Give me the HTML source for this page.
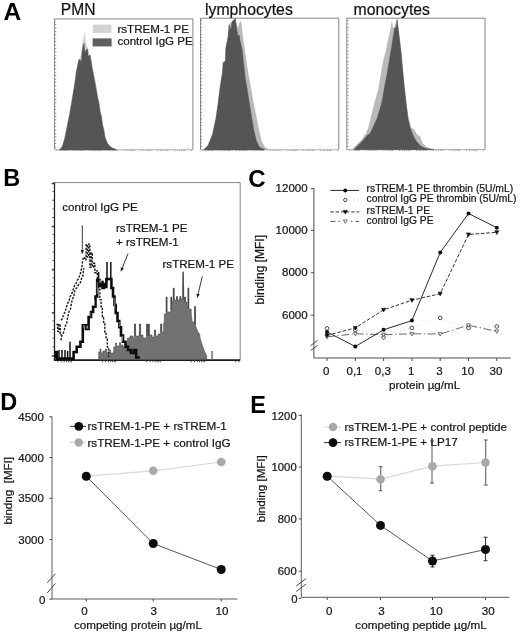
<!DOCTYPE html>
<html><head><meta charset="utf-8"><title>figure</title>
<style>
html,body{margin:0;padding:0;background:#fff;}
svg{display:block;font-family:"Liberation Sans",sans-serif;}
svg text{stroke:#222;stroke-width:0.22px;}
</style></head><body>
<svg width="520" height="634" viewBox="0 0 520 634">
<defs><filter id="soft" x="0" y="0" width="520" height="634" filterUnits="userSpaceOnUse"><feGaussianBlur stdDeviation="0.42"/></filter></defs>
<rect x="0" y="0" width="520" height="634" fill="#ffffff"/>
<g filter="url(#soft)">
<text x="3.4" y="19.6" font-size="24.5" font-weight="bold" fill="#000" style="stroke:none">A</text>
<text x="3.2" y="185.8" font-size="23.6" font-weight="bold" fill="#000" style="stroke:none">B</text>
<text x="248.3" y="186.8" font-size="24" font-weight="bold" fill="#000" style="stroke:none">C</text>
<text x="0.2" y="410.4" font-size="23.5" font-weight="bold" fill="#000" style="stroke:none">D</text>
<text x="250.3" y="412.8" font-size="23.5" font-weight="bold" fill="#000" style="stroke:none">E</text>
<path d="M54.6 149.8V18.9H192.9V149.8" fill="none" stroke="#666" stroke-width="0.8"/>
<path d="M54.6 149.8H192.9" fill="none" stroke="#969696" stroke-width="0.8"/>
<line x1="55.6" y1="20.9" x2="55.6" y2="149.8" stroke="#777" stroke-width="1.4" stroke-dasharray="0.7 2.7"/>
<line x1="56.6" y1="150.5" x2="192.9" y2="150.5" stroke="#8a8a8a" stroke-width="1.2" stroke-dasharray="0.7 2.2 0.7 1.6 0.7 1.2 0.7 0.9 0.7 0.7 0.7 6"/>
<polygon points="59.00,150.00 62.00,146.25 64.50,137.50 67.00,125.00 69.50,112.50 72.00,97.50 74.50,82.50 75.75,72.50 77.00,66.25 78.25,60.00 79.75,58.00 81.00,55.00 82.00,47.50 83.00,40.00 84.50,31.25 85.75,40.00 86.75,46.25 88.00,47.50 89.00,55.00 90.75,54.50 92.00,62.50 93.25,70.00 95.25,80.00 97.00,90.00 98.25,97.50 99.50,102.50 100.75,111.25 102.00,116.25 103.25,125.00 104.50,130.00 105.75,137.50 108.25,143.75 112.00,147.50 117.00,149.75 117.00,150.00" fill="#d3d3d3"/>
<polygon points="59.50,150.00 62.50,146.25 65.00,137.50 67.50,125.00 70.00,112.50 72.50,97.50 75.00,82.50 76.25,72.50 77.50,66.25 78.75,60.00 80.00,59.50 81.25,62.50 82.00,52.50 83.00,46.25 84.00,43.00 85.00,52.50 86.25,50.00 87.50,48.75 88.25,56.25 90.00,55.00 91.25,62.50 92.50,70.00 94.50,80.00 96.25,90.00 97.50,97.50 98.75,102.50 100.00,111.25 101.25,116.25 102.50,125.00 103.75,130.00 105.00,137.50 107.50,143.75 111.25,147.50 116.25,149.50 116.25,150.00" fill="#555555" stroke="#484848" stroke-width="0.4"/>
<rect x="92.8" y="24.6" width="18.6" height="8.3" fill="#d3d3d3"/>
<rect x="92.6" y="38.4" width="19" height="8" fill="#5e5e5e"/>
<text x="117.4" y="32.7" font-size="11.6" fill="#111">rsTREM-1 PE</text>
<text x="117.4" y="45.4" font-size="11.6" fill="#111">control IgG PE</text>
<text x="60.8" y="14.8" font-size="15.6" fill="#111">PMN</text>
<path d="M200.5 149.8V18.2H338.8V149.8" fill="none" stroke="#666" stroke-width="0.8"/>
<path d="M200.5 149.8H338.8" fill="none" stroke="#969696" stroke-width="0.8"/>
<line x1="201.5" y1="20.2" x2="201.5" y2="149.8" stroke="#777" stroke-width="1.4" stroke-dasharray="0.7 2.7"/>
<line x1="202.5" y1="150.5" x2="338.8" y2="150.5" stroke="#8a8a8a" stroke-width="1.2" stroke-dasharray="0.7 2.2 0.7 1.6 0.7 1.2 0.7 0.9 0.7 0.7 0.7 6"/>
<polygon points="203.39,149.88 207.80,145.24 212.22,134.21 215.53,118.75 217.74,103.30 219.94,85.64 221.93,72.40 222.81,62.02 225.02,60.92 225.46,48.11 227.67,37.08 228.77,24.49 232.09,21.18 235.18,17.87 238.05,28.25 239.15,23.83 240.92,20.52 242.02,28.25 243.57,41.49 245.55,54.74 247.76,70.19 250.63,85.64 253.72,103.30 256.37,116.55 259.02,129.79 261.67,140.83 264.76,147.01 268.73,149.22 268.73,149.88" fill="#b9b9b9"/>
<polygon points="203.83,149.88 208.25,145.24 212.66,134.21 215.97,118.75 218.18,103.30 220.39,85.64 222.59,72.40 223.26,62.46 225.46,61.36 225.91,48.11 228.11,37.08 229.22,24.93 230.76,30.45 232.09,21.62 233.63,20.52 235.18,18.31 236.50,28.25 238.05,37.08 239.15,34.87 240.25,41.49 242.24,50.32 243.57,63.57 245.33,79.02 247.32,90.06 249.30,103.30 251.51,116.55 253.72,129.79 256.37,140.83 259.68,147.45 264.54,149.22 264.54,149.88" fill="#555555" stroke="#484848" stroke-width="0.4"/>
<text x="205" y="14.7" font-size="15.8" fill="#111">lymphocytes</text>
<path d="M346.8 149.6V18.2H485.0V149.6" fill="none" stroke="#666" stroke-width="0.8"/>
<path d="M346.8 149.6H485.0" fill="none" stroke="#969696" stroke-width="0.8"/>
<line x1="347.8" y1="20.2" x2="347.8" y2="149.6" stroke="#777" stroke-width="1.4" stroke-dasharray="0.7 2.7"/>
<line x1="348.8" y1="150.29999999999998" x2="485.0" y2="150.29999999999998" stroke="#8a8a8a" stroke-width="1.2" stroke-dasharray="0.7 2.2 0.7 1.6 0.7 1.2 0.7 0.9 0.7 0.7 0.7 6"/>
<polygon points="351.63,149.75 356.04,145.33 361.57,139.81 365.99,133.18 368.19,127.66 370.40,118.82 372.61,109.99 374.82,101.15 378.13,90.10 380.34,76.85 382.55,63.60 385.87,50.34 388.07,39.30 390.28,30.46 391.83,20.52 393.16,28.25 394.70,26.04 397.13,18.98 398.68,30.46 400.00,41.51 401.55,54.76 403.10,72.43 404.86,90.10 406.63,105.57 408.62,117.72 411.27,128.10 414.58,129.87 416.79,134.28 420.10,136.49 422.31,143.12 426.73,147.10 431.15,148.64 437.78,149.31 437.78,149.75" fill="#b9b9b9"/>
<polygon points="353.84,149.75 358.25,145.33 362.67,140.91 367.09,135.39 370.40,133.18 373.72,125.45 377.03,118.82 380.34,107.78 382.55,98.94 384.76,85.69 386.97,74.64 389.18,61.39 391.39,48.13 393.16,37.09 394.70,28.25 396.25,27.15 397.13,19.42 398.46,30.46 399.78,41.51 401.33,54.76 402.87,72.43 404.64,90.10 406.41,105.57 407.96,118.82 410.16,127.66 413.48,136.49 416.79,142.02 421.21,146.43 426.73,148.64 433.36,149.31 433.36,149.75" fill="#555555" stroke="#484848" stroke-width="0.4"/>
<text x="353.6" y="14.7" font-size="15.8" fill="#111">monocytes</text>
<path d="M54.5 182.6H240.2V360" fill="none" stroke="#777" stroke-width="0.9"/>
<path d="M54.5 182.6V360" fill="none" stroke="#222" stroke-width="1.3"/>
<path d="M53.9 360.1H240.2" fill="none" stroke="#1a1a1a" stroke-width="1.7"/>
<line x1="53.3" y1="182.6" x2="53.3" y2="360" stroke="#333" stroke-width="1.6" stroke-dasharray="0.8 7.82"/>
<line x1="57.5" y1="361.4" x2="240.2" y2="361.4" stroke="#333" stroke-width="1.6" stroke-dasharray="0.8 2.6 0.8 2 0.8 1.5 0.8 1.1 0.8 0.9 0.8 0.7 0.8 30"/>
<line x1="51.6" y1="183.7" x2="54.5" y2="183.7" stroke="#222" stroke-width="1"/>
<line x1="51.6" y1="226.8" x2="54.5" y2="226.8" stroke="#222" stroke-width="1"/>
<line x1="51.6" y1="269.9" x2="54.5" y2="269.9" stroke="#222" stroke-width="1"/>
<line x1="51.6" y1="313.0" x2="54.5" y2="313.0" stroke="#222" stroke-width="1"/>
<line x1="51.6" y1="356.1" x2="54.5" y2="356.1" stroke="#222" stroke-width="1"/>
<polygon points="98.70,359.50 98.70,352.00 100.00,352.00 100.00,349.00 101.00,349.00 101.00,353.00 103.00,353.00 103.00,351.00 105.50,351.00 105.50,349.00 106.80,349.00 106.80,353.00 109.50,353.00 109.50,350.00 110.50,350.00 110.50,353.00 113.70,353.00 113.70,347.00 115.50,347.00 115.50,343.00 116.50,343.00 116.50,346.00 119.50,346.00 119.50,342.50 120.50,342.50 120.50,345.00 123.00,345.00 123.00,347.00 125.00,347.00 125.00,344.00 127.50,344.00 127.50,338.00 130.00,338.00 130.00,336.00 133.00,336.00 133.00,338.00 134.40,338.00 134.40,324.00 135.60,324.00 135.60,336.00 139.40,336.00 139.40,324.00 140.60,324.00 140.60,335.00 143.00,335.00 143.00,338.00 146.50,338.00 146.50,324.00 147.60,324.00 147.60,332.00 148.30,332.00 148.30,324.00 149.40,324.00 149.40,335.00 152.00,335.00 152.00,337.00 154.40,337.00 154.40,330.00 155.60,330.00 155.60,336.00 158.00,336.00 158.00,334.00 160.60,334.00 160.60,324.00 161.80,324.00 161.80,332.00 163.70,332.00 163.70,323.00 164.30,323.00 164.30,314.00 166.10,314.00 166.10,297.00 167.10,297.00 167.10,312.00 170.80,312.00 170.80,297.00 171.80,297.00 171.80,301.00 173.20,301.00 173.20,288.00 174.20,288.00 174.20,300.00 176.50,300.00 176.50,296.50 177.50,296.50 177.50,300.00 179.80,300.00 179.80,296.50 180.80,296.50 180.80,299.00 182.60,299.00 182.60,290.00 183.10,271.50 183.70,290.00 183.70,299.00 184.50,299.00 184.50,297.00 185.50,297.00 185.50,302.00 187.00,302.00 187.00,307.00 187.90,307.00 187.90,288.00 188.90,288.00 188.90,309.00 191.20,309.00 191.20,314.00 192.20,322.00 194.50,322.00 194.50,306.50 195.50,306.50 195.50,326.00 197.80,331.60 199.70,334.40 200.00,338.00 202.50,346.00 205.00,352.50 206.70,356.00 206.70,359.50" fill="#727272" stroke="#4a4a4a" stroke-width="0.6" stroke-linejoin="round"/>
<rect x="211.4" y="351" width="1.3" height="9" fill="#5a5a5a"/>
<line x1="166.6" y1="297" x2="166.6" y2="312" stroke="#3c3c3c" stroke-width="0.9"/>
<line x1="171.3" y1="297" x2="171.3" y2="310" stroke="#3c3c3c" stroke-width="0.9"/>
<line x1="173.7" y1="288" x2="173.7" y2="300" stroke="#3c3c3c" stroke-width="0.9"/>
<line x1="177" y1="296.5" x2="177" y2="300" stroke="#3c3c3c" stroke-width="0.9"/>
<line x1="180.3" y1="296.5" x2="180.3" y2="300" stroke="#3c3c3c" stroke-width="0.9"/>
<line x1="183.15" y1="272" x2="183.15" y2="299" stroke="#3c3c3c" stroke-width="0.9"/>
<line x1="185" y1="297" x2="185" y2="302" stroke="#3c3c3c" stroke-width="0.9"/>
<line x1="188.4" y1="288" x2="188.4" y2="308" stroke="#3c3c3c" stroke-width="0.9"/>
<line x1="195" y1="306.5" x2="195" y2="324" stroke="#3c3c3c" stroke-width="0.9"/>
<line x1="135" y1="324" x2="135" y2="336" stroke="#3c3c3c" stroke-width="0.9"/>
<line x1="140" y1="324" x2="140" y2="336" stroke="#3c3c3c" stroke-width="0.9"/>
<line x1="147.05" y1="324" x2="147.05" y2="336" stroke="#3c3c3c" stroke-width="0.9"/>
<line x1="148.85" y1="324" x2="148.85" y2="336" stroke="#3c3c3c" stroke-width="0.9"/>
<line x1="161.2" y1="324" x2="161.2" y2="332" stroke="#3c3c3c" stroke-width="0.9"/>
<line x1="155" y1="330" x2="155" y2="336" stroke="#3c3c3c" stroke-width="0.9"/>
<polyline points="56.40,324.47 57.65,324.47 57.65,331.41 58.90,331.41 58.90,324.25 60.15,324.25 60.15,334.94 61.40,334.94" fill="none" stroke="#1a1a1a" stroke-width="1.4" stroke-dasharray="2.3 1.3" stroke-linejoin="round"/>
<polyline points="83.60,257.92 84.85,257.92 84.85,259.88 86.10,259.88 86.10,244.55 87.35,244.55 87.35,257.10 88.60,257.10 88.60,243.97 89.85,243.97 89.85,267.27 91.10,267.27 91.10,252.83 92.35,252.83 92.35,267.10 93.60,267.10 93.60,263.30 94.85,263.30 94.85,272.72 96.10,272.72 96.10,270.87 97.35,270.87 97.35,281.87 98.60,281.87 98.60,286.89 99.85,286.89 99.85,299.60 101.10,299.60 101.10,306.78 102.35,306.78 102.35,317.56 103.60,317.56 103.60,323.38 104.85,323.38 104.85,333.52 106.10,333.52 106.10,339.02 107.35,339.02 107.35,347.11 108.60,347.11 108.60,357.00" fill="none" stroke="#1a1a1a" stroke-width="1.4" stroke-dasharray="2.3 1.3" stroke-linejoin="round"/>
<polyline points="60.90,320.30 62.20,319.00 63.60,314.90 64.80,312.50 66.30,307.60 67.00,305.50 68.10,302.20 69.20,300.50 70.00,296.70 71.40,294.50 72.70,291.30 73.40,289.00 74.50,285.80 76.00,283.60 77.20,280.40 78.60,278.40 79.90,274.90 80.80,272.00 81.80,267.70 82.30,264.00 82.70,260.40 83.60,257.00" fill="none" stroke="#1a1a1a" stroke-width="1.4" stroke-dasharray="2.3 1.3" stroke-linejoin="round"/>
<polyline points="60.90,340.30 62.00,335.00 63.20,333.60 65.40,325.70 66.60,323.80 67.60,317.50 69.10,311.20 70.40,309.40 71.50,303.00 72.70,298.50 73.80,296.60 74.60,291.50 75.40,289.40 77.00,287.60 79.00,284.00 80.40,282.60 81.60,278.40 82.70,276.70 83.30,272.00 83.80,268.00" fill="none" stroke="#1a1a1a" stroke-width="1.4" stroke-dasharray="2.3 1.3" stroke-linejoin="round"/>
<polyline points="55.60,358.60 55.60,352.00 57.00,352.00 57.00,358.60 73.60,358.60 73.60,352.00 76.70,352.00 76.70,346.80 80.40,346.80 80.40,341.70 82.80,341.70 82.80,325.30 86.00,325.30 86.00,329.00 88.60,329.00 88.60,317.00 91.00,317.00 91.00,312.00 93.10,312.00 93.10,306.80 95.50,306.80 95.50,296.50 97.20,296.50 97.20,280.00 99.60,280.00 99.60,286.00 101.00,286.00 101.00,282.00 102.50,282.00 102.50,288.00 104.00,288.00 104.00,284.00 105.40,284.00 105.40,287.00 106.40,287.00 106.40,279.00 111.40,279.00 111.40,288.00 113.00,288.00 113.00,296.50 114.50,296.50 114.50,305.00 115.70,305.00 115.70,313.00 117.50,313.00 117.50,321.00 119.30,321.00 119.30,327.30 121.00,327.30 121.00,335.50 123.00,335.50 123.00,341.70 125.50,341.70 125.50,346.80 128.00,346.80 128.00,350.00 131.00,350.00 131.00,353.00 134.00,353.00 134.00,350.00 136.20,350.00 136.20,357.50 140.00,357.50" fill="none" stroke="#111" stroke-width="2.6" stroke-linejoin="miter"/>
<line x1="59" y1="350" x2="59" y2="358.6" stroke="#111" stroke-width="1.5"/>
<line x1="62" y1="350" x2="62" y2="358.6" stroke="#111" stroke-width="1.5"/>
<line x1="65" y1="350" x2="65" y2="358.6" stroke="#111" stroke-width="1.5"/>
<line x1="67.6" y1="351" x2="67.6" y2="358.6" stroke="#111" stroke-width="1.5"/>
<line x1="70" y1="341.7" x2="70" y2="358.6" stroke="#111" stroke-width="1.5"/>
<line x1="98.6" y1="272" x2="98.6" y2="280" stroke="#111" stroke-width="1.5"/>
<line x1="107.0" y1="262" x2="107.0" y2="281" stroke="#111" stroke-width="1.5"/>
<line x1="110.8" y1="262" x2="110.8" y2="281" stroke="#111" stroke-width="1.5"/>
<rect x="83.4" y="324.8" width="1.0" height="3.5" fill="#888"/>
<rect x="86.4" y="325.6" width="1.8" height="3" fill="#888"/>
<rect x="89.6" y="312.5" width="0.9" height="4" fill="#888"/>
<rect x="94" y="300" width="0.9" height="6" fill="#888"/>
<rect x="96.8" y="282" width="0.9" height="12" fill="#888"/>
<rect x="99.4" y="279.6" width="2.2" height="3.2" fill="#888"/>
<rect x="114.3" y="298" width="0.9" height="12" fill="#888"/>
<rect x="118.8" y="322" width="0.9" height="5" fill="#888"/>
<rect x="122" y="336" width="0.9" height="5" fill="#888"/>
<text x="62.3" y="210.6" font-size="11.6" fill="#111">control IgG PE</text>
<text x="116" y="231.8" font-size="11.6" fill="#111">rsTREM-1 PE</text>
<text x="116" y="245.5" font-size="11.6" fill="#111">+ rsTREM-1</text>
<text x="162.5" y="268.4" font-size="11.6" fill="#111">rsTREM-1 PE</text>
<line x1="82.30" y1="225.50" x2="82.30" y2="250.00" stroke="#222" stroke-width="0.9"/>
<polygon points="82.30,254.20 80.60,250.00 84.00,250.00" fill="#222"/>
<line x1="128.00" y1="253.60" x2="122.35" y2="267.89" stroke="#222" stroke-width="0.9"/>
<polygon points="120.80,271.80 120.76,267.27 123.93,268.52" fill="#222"/>
<line x1="202.30" y1="276.40" x2="198.17" y2="293.81" stroke="#222" stroke-width="0.9"/>
<polygon points="197.20,297.90 196.52,293.42 199.82,294.21" fill="#222"/>
<line x1="313.9" y1="188" x2="313.9" y2="358" stroke="#4a4a4a" stroke-width="1"/>
<line x1="313.9" y1="358" x2="510.6" y2="358" stroke="#4a4a4a" stroke-width="1"/>
<line x1="310.9" y1="188.7" x2="313.9" y2="188.7" stroke="#4a4a4a" stroke-width="1"/>
<text x="307.6" y="191.9" font-size="11.5" text-anchor="end" fill="#111">12000</text>
<line x1="310.9" y1="230.4" x2="313.9" y2="230.4" stroke="#4a4a4a" stroke-width="1"/>
<text x="307.6" y="233.6" font-size="11.5" text-anchor="end" fill="#111">10000</text>
<line x1="310.9" y1="272.7" x2="313.9" y2="272.7" stroke="#4a4a4a" stroke-width="1"/>
<text x="307.6" y="276.1" font-size="11.5" text-anchor="end" fill="#111">8000</text>
<line x1="310.9" y1="315.2" x2="313.9" y2="315.2" stroke="#4a4a4a" stroke-width="1"/>
<text x="307.6" y="318.90000000000003" font-size="11.5" text-anchor="end" fill="#111">6000</text>
<line x1="310.6" y1="345.6" x2="317.6" y2="340.4" stroke="#4a4a4a" stroke-width="1"/>
<line x1="310.6" y1="350.6" x2="317.6" y2="345.4" stroke="#4a4a4a" stroke-width="1"/>
<line x1="327.0" y1="358" x2="327.0" y2="361" stroke="#4a4a4a" stroke-width="1"/>
<text x="326.2" y="374.6" font-size="11.5" text-anchor="middle" fill="#111">0</text>
<line x1="355.3" y1="358" x2="355.3" y2="361" stroke="#4a4a4a" stroke-width="1"/>
<text x="354.5" y="374.6" font-size="11.5" text-anchor="middle" fill="#111">0,1</text>
<line x1="383.6" y1="358" x2="383.6" y2="361" stroke="#4a4a4a" stroke-width="1"/>
<text x="382.8" y="374.6" font-size="11.5" text-anchor="middle" fill="#111">0,3</text>
<line x1="411.9" y1="358" x2="411.9" y2="361" stroke="#4a4a4a" stroke-width="1"/>
<text x="411.09999999999997" y="374.6" font-size="11.5" text-anchor="middle" fill="#111">1</text>
<line x1="440.2" y1="358" x2="440.2" y2="361" stroke="#4a4a4a" stroke-width="1"/>
<text x="439.4" y="374.6" font-size="11.5" text-anchor="middle" fill="#111">3</text>
<line x1="468.5" y1="358" x2="468.5" y2="361" stroke="#4a4a4a" stroke-width="1"/>
<text x="467.7" y="374.6" font-size="11.5" text-anchor="middle" fill="#111">10</text>
<line x1="496.8" y1="358" x2="496.8" y2="361" stroke="#4a4a4a" stroke-width="1"/>
<text x="496.0" y="374.6" font-size="11.5" text-anchor="middle" fill="#111">30</text>
<text x="389" y="388.6" font-size="11.6" fill="#111">protein &#181;g/mL</text>
<text transform="translate(264.4,304.4) rotate(-90)" font-size="12" fill="#111">binding [MFI]</text>
<polyline points="327.0,328.4 355.3,329.8 383.6,337.3 411.9,327.9 440.2,317.9 468.5,327.9 496.8,326.5" fill="none" stroke="#cfcfcf" stroke-width="0.9" stroke-dasharray="1.2 3.2"/>
<polyline points="327.0,336.8 355.3,333.8 383.6,334.6 411.9,333.8 440.2,334.0 468.5,325.2 496.8,331.4" fill="none" stroke="#444" stroke-width="0.8" stroke-dasharray="8 2.6 1.2 2.6"/>
<polyline points="327.0,335.4 355.3,327.9 383.6,309.8 411.9,300.2 440.2,293.7 468.5,234.5 496.8,232.3" fill="none" stroke="#333" stroke-width="1" stroke-dasharray="3.6 1.8"/>
<polyline points="327.0,331.9 355.3,346.5 383.6,329.8 411.9,320.6 440.2,252.5 468.5,213.5 496.8,227.7" fill="none" stroke="#2a2a2a" stroke-width="1"/>
<circle cx="327.0" cy="328.4" r="1.8" fill="#fff" stroke="#222" stroke-width="0.8"/>
<circle cx="355.3" cy="329.8" r="1.8" fill="#fff" stroke="#222" stroke-width="0.8"/>
<circle cx="383.6" cy="337.3" r="1.8" fill="#fff" stroke="#222" stroke-width="0.8"/>
<circle cx="411.9" cy="327.9" r="1.8" fill="#fff" stroke="#222" stroke-width="0.8"/>
<circle cx="440.2" cy="317.9" r="1.8" fill="#fff" stroke="#222" stroke-width="0.8"/>
<circle cx="468.5" cy="327.9" r="1.8" fill="#fff" stroke="#222" stroke-width="0.8"/>
<circle cx="496.8" cy="326.5" r="1.8" fill="#fff" stroke="#222" stroke-width="0.8"/>
<polygon points="325.1,335.4 328.9,335.4 327.0,338.8" fill="#fff" stroke="#333" stroke-width="0.7"/>
<polygon points="353.4,332.4 357.2,332.4 355.3,335.8" fill="#fff" stroke="#333" stroke-width="0.7"/>
<polygon points="381.7,333.2 385.5,333.2 383.6,336.6" fill="#fff" stroke="#333" stroke-width="0.7"/>
<polygon points="410.0,332.4 413.8,332.4 411.9,335.8" fill="#fff" stroke="#333" stroke-width="0.7"/>
<polygon points="438.3,332.6 442.1,332.6 440.2,336.0" fill="#fff" stroke="#333" stroke-width="0.7"/>
<polygon points="466.6,323.8 470.4,323.8 468.5,327.2" fill="#fff" stroke="#333" stroke-width="0.7"/>
<polygon points="494.9,330.0 498.7,330.0 496.8,333.4" fill="#fff" stroke="#333" stroke-width="0.7"/>
<polygon points="325.0,333.9 329.0,333.9 327.0,337.5" fill="#111" stroke="#111" stroke-width="0.7"/>
<polygon points="353.3,326.4 357.3,326.4 355.3,330.0" fill="#111" stroke="#111" stroke-width="0.7"/>
<polygon points="381.6,308.3 385.6,308.3 383.6,311.9" fill="#111" stroke="#111" stroke-width="0.7"/>
<polygon points="409.9,298.7 413.9,298.7 411.9,302.3" fill="#111" stroke="#111" stroke-width="0.7"/>
<polygon points="438.2,292.2 442.2,292.2 440.2,295.8" fill="#111" stroke="#111" stroke-width="0.7"/>
<polygon points="466.5,233.0 470.5,233.0 468.5,236.6" fill="#111" stroke="#111" stroke-width="0.7"/>
<polygon points="494.8,230.8 498.8,230.8 496.8,234.4" fill="#111" stroke="#111" stroke-width="0.7"/>
<circle cx="327.0" cy="331.9" r="2.0" fill="#111"/>
<circle cx="355.3" cy="346.5" r="2.0" fill="#111"/>
<circle cx="383.6" cy="329.8" r="2.0" fill="#111"/>
<circle cx="411.9" cy="320.6" r="2.0" fill="#111"/>
<circle cx="440.2" cy="252.5" r="2.0" fill="#111"/>
<circle cx="468.5" cy="213.5" r="2.0" fill="#111"/>
<circle cx="496.8" cy="227.7" r="2.0" fill="#111"/>
<line x1="330.4" y1="190.4" x2="359.2" y2="190.4" stroke="#2a2a2a" stroke-width="1"/>
<circle cx="345.3" cy="190.4" r="2.0" fill="#111"/>
<line x1="336.4" y1="200.0" x2="359.2" y2="200.0" stroke="#c4c4c4" stroke-width="1" stroke-dasharray="1.2 3"/>
<rect x="340.3" y="198.0" width="10" height="4" fill="#fff"/>
<circle cx="345.3" cy="200.0" r="1.7" fill="#fff" stroke="#222" stroke-width="0.8"/>
<line x1="330.4" y1="211.9" x2="359.2" y2="211.9" stroke="#333" stroke-width="1" stroke-dasharray="3.4 1.8"/>
<polygon points="343.3,210.4 347.3,210.4 345.3,214.0" fill="#111" stroke="#111" stroke-width="0.7"/>
<line x1="330.4" y1="221.4" x2="359.2" y2="221.4" stroke="#444" stroke-width="0.9" stroke-dasharray="5 3 1.5 3"/>
<rect x="341.8" y="219.4" width="7" height="4" fill="#fff"/>
<polygon points="343.4,220.0 347.2,220.0 345.3,223.4" fill="#fff" stroke="#333" stroke-width="0.7"/>
<text x="366.6" y="192.1" font-size="10.3" fill="#111">rsTREM-1 PE thrombin (5U/mL)</text>
<text x="366.6" y="202.4" font-size="10.3" fill="#111">control IgG PE thrombin (5U/mL)</text>
<text x="366.6" y="213.5" font-size="10.3" fill="#111">rsTREM-1 PE</text>
<text x="366.6" y="223.6" font-size="10.3" fill="#111">control IgG PE</text>
<line x1="52" y1="416.5" x2="52" y2="599" stroke="#4a4a4a" stroke-width="0.9"/>
<line x1="52" y1="599" x2="237.5" y2="599" stroke="#4a4a4a" stroke-width="0.9"/>
<line x1="49.4" y1="416.8" x2="52" y2="416.8" stroke="#4a4a4a" stroke-width="1"/>
<text x="43.9" y="420.8" font-size="11.5" text-anchor="end" fill="#111">4500</text>
<line x1="49.4" y1="457.5" x2="52" y2="457.5" stroke="#4a4a4a" stroke-width="1"/>
<text x="43.9" y="461.5" font-size="11.5" text-anchor="end" fill="#111">4000</text>
<line x1="49.4" y1="498.3" x2="52" y2="498.3" stroke="#4a4a4a" stroke-width="1"/>
<text x="43.9" y="502.3" font-size="11.5" text-anchor="end" fill="#111">3500</text>
<line x1="49.4" y1="539.6" x2="52" y2="539.6" stroke="#4a4a4a" stroke-width="1"/>
<text x="43.9" y="543.6" font-size="11.5" text-anchor="end" fill="#111">3000</text>
<line x1="49.4" y1="599.2" x2="52" y2="599.2" stroke="#4a4a4a" stroke-width="1"/>
<text x="45.4" y="603.8000000000001" font-size="11.5" text-anchor="end" fill="#111">0</text>
<line x1="47.2" y1="582.8" x2="55.4" y2="573.8" stroke="#4a4a4a" stroke-width="1"/>
<line x1="47.2" y1="593" x2="55.4" y2="583.4" stroke="#4a4a4a" stroke-width="1"/>
<line x1="86.25" y1="599" x2="86.25" y2="601.6" stroke="#4a4a4a" stroke-width="1"/>
<text x="84.6" y="614.7" font-size="11.6" text-anchor="middle" fill="#111">0</text>
<line x1="153.25" y1="599" x2="153.25" y2="601.6" stroke="#4a4a4a" stroke-width="1"/>
<text x="153.8" y="614.7" font-size="11.6" text-anchor="middle" fill="#111">3</text>
<line x1="221.25" y1="599" x2="221.25" y2="601.6" stroke="#4a4a4a" stroke-width="1"/>
<text x="222" y="614.7" font-size="11.6" text-anchor="middle" fill="#111">10</text>
<text x="74.0" y="628.7" font-size="11.6" fill="#111">competing protein &#181;g/mL</text>
<text transform="translate(11.8,524.6) rotate(-90)" font-size="11.6" fill="#111" xml:space="preserve">bindng  [MFI]</text>
<polyline points="86.2,476.2 153.2,470.8 221.2,462.0" fill="none" stroke="#d8d8d8" stroke-width="1.2"/>
<polyline points="86.2,476.2 153.2,543.5 221.2,569.5" fill="none" stroke="#444" stroke-width="0.9"/>
<circle cx="86.25" cy="476.25" r="4.3" fill="#a9a9a9"/>
<circle cx="153.25" cy="470.75" r="4.3" fill="#a9a9a9"/>
<circle cx="221.25" cy="462" r="4.3" fill="#a9a9a9"/>
<circle cx="86.25" cy="476.25" r="4.5" fill="#0a0a0a"/>
<circle cx="153.25" cy="543.5" r="4.5" fill="#0a0a0a"/>
<circle cx="221.25" cy="569.5" r="4.5" fill="#0a0a0a"/>
<line x1="70" y1="426.3" x2="86" y2="426.3" stroke="#333" stroke-width="1"/>
<circle cx="78.75" cy="426.3" r="4.4" fill="#0a0a0a"/>
<line x1="70" y1="442.5" x2="86" y2="442.5" stroke="#d8d8d8" stroke-width="1.2"/>
<circle cx="78.75" cy="442.5" r="4.2" fill="#a9a9a9"/>
<text x="87.4" y="430.4" font-size="11.7" fill="#111">rsTREM-1-PE + rsTREM-1</text>
<text x="87.4" y="446.6" font-size="11.7" fill="#111">rsTREM-1-PE + control IgG</text>
<line x1="301.3" y1="414.5" x2="301.3" y2="597.3" stroke="#4a4a4a" stroke-width="0.9"/>
<line x1="301.3" y1="597.3" x2="509.5" y2="597.3" stroke="#4a4a4a" stroke-width="0.9"/>
<line x1="298.7" y1="415.5" x2="301.3" y2="415.5" stroke="#4a4a4a" stroke-width="1"/>
<text x="296.7" y="419.5" font-size="11.3" text-anchor="end" fill="#111">1200</text>
<line x1="298.7" y1="467" x2="301.3" y2="467" stroke="#4a4a4a" stroke-width="1"/>
<text x="296.7" y="471.0" font-size="11.3" text-anchor="end" fill="#111">1000</text>
<line x1="298.7" y1="518.9" x2="301.3" y2="518.9" stroke="#4a4a4a" stroke-width="1"/>
<text x="296.7" y="522.9" font-size="11.3" text-anchor="end" fill="#111">800</text>
<line x1="298.7" y1="571.2" x2="301.3" y2="571.2" stroke="#4a4a4a" stroke-width="1"/>
<text x="296.7" y="575.2" font-size="11.3" text-anchor="end" fill="#111">600</text>
<line x1="298.7" y1="598.4" x2="301.3" y2="598.4" stroke="#4a4a4a" stroke-width="1"/>
<text x="297.5" y="602.8" font-size="11.3" text-anchor="end" fill="#111">0</text>
<line x1="296.2" y1="586" x2="306.2" y2="578.5" stroke="#4a4a4a" stroke-width="1"/>
<line x1="296.2" y1="591.5" x2="306.2" y2="584" stroke="#4a4a4a" stroke-width="1"/>
<line x1="327.2" y1="597.3" x2="327.2" y2="599.9" stroke="#4a4a4a" stroke-width="1"/>
<text x="329.3" y="614.7" font-size="11.6" text-anchor="middle" fill="#111">0</text>
<line x1="380.5" y1="597.3" x2="380.5" y2="599.9" stroke="#4a4a4a" stroke-width="1"/>
<text x="381.6" y="614.7" font-size="11.6" text-anchor="middle" fill="#111">3</text>
<line x1="432.5" y1="597.3" x2="432.5" y2="599.9" stroke="#4a4a4a" stroke-width="1"/>
<text x="436.2" y="614.7" font-size="11.6" text-anchor="middle" fill="#111">10</text>
<line x1="485.5" y1="597.3" x2="485.5" y2="599.9" stroke="#4a4a4a" stroke-width="1"/>
<text x="488.2" y="614.7" font-size="11.6" text-anchor="middle" fill="#111">30</text>
<text x="355.3" y="628.7" font-size="11.7" fill="#111">competing peptide &#181;g/mL</text>
<text transform="translate(264.8,522.2) rotate(-90)" font-size="11.6" fill="#111">binding [MFI]</text>
<polyline points="327.2,476.2 380.5,479.2 432.5,466.2 485.5,462.5" fill="none" stroke="#d8d8d8" stroke-width="1.2"/>
<path d="M378.75 466.75H382.75M380.75 466.75V490.75M378.75 490.75H382.75" stroke="#555" stroke-width="1" fill="none"/>
<path d="M430 441H434M432 441V483M430 483H434" stroke="#555" stroke-width="1" fill="none"/>
<path d="M483.75 440H487.75M485.75 440V485M483.75 485H487.75" stroke="#555" stroke-width="1" fill="none"/>
<circle cx="327.2" cy="476.25" r="4.3" fill="#a9a9a9"/>
<circle cx="380.5" cy="479.25" r="4.3" fill="#a9a9a9"/>
<circle cx="432.5" cy="466.25" r="4.3" fill="#a9a9a9"/>
<circle cx="485.5" cy="462.5" r="4.3" fill="#a9a9a9"/>
<polyline points="327.2,476.2 380.5,525.4 432.5,561.0 485.5,549.5" fill="none" stroke="#444" stroke-width="0.9"/>
<path d="M430.5 555.25H434.5M432.5 555.25V567M430.5 567H434.5" stroke="#333" stroke-width="1" fill="none"/>
<path d="M483.5 537.25H487.5M485.5 537.25V560.75M483.5 560.75H487.5" stroke="#333" stroke-width="1" fill="none"/>
<circle cx="327.2" cy="476.25" r="4.5" fill="#0a0a0a"/>
<circle cx="380.5" cy="525.4" r="4.5" fill="#0a0a0a"/>
<circle cx="432.5" cy="561" r="4.5" fill="#0a0a0a"/>
<circle cx="485.5" cy="549.5" r="4.5" fill="#0a0a0a"/>
<line x1="323.8" y1="427" x2="341.2" y2="427" stroke="#d8d8d8" stroke-width="1.2"/>
<circle cx="333" cy="427" r="4.2" fill="#a9a9a9"/>
<line x1="323.8" y1="442.6" x2="341.2" y2="442.6" stroke="#333" stroke-width="1"/>
<circle cx="333" cy="442.6" r="4.4" fill="#0a0a0a"/>
<text x="344.4" y="431.3" font-size="11.7" fill="#111">rsTREM-1-PE + control peptide</text>
<text x="344.4" y="446.4" font-size="11.7" fill="#111">rsTREM-1-PE + LP17</text>
</g>
</svg>
</body></html>
